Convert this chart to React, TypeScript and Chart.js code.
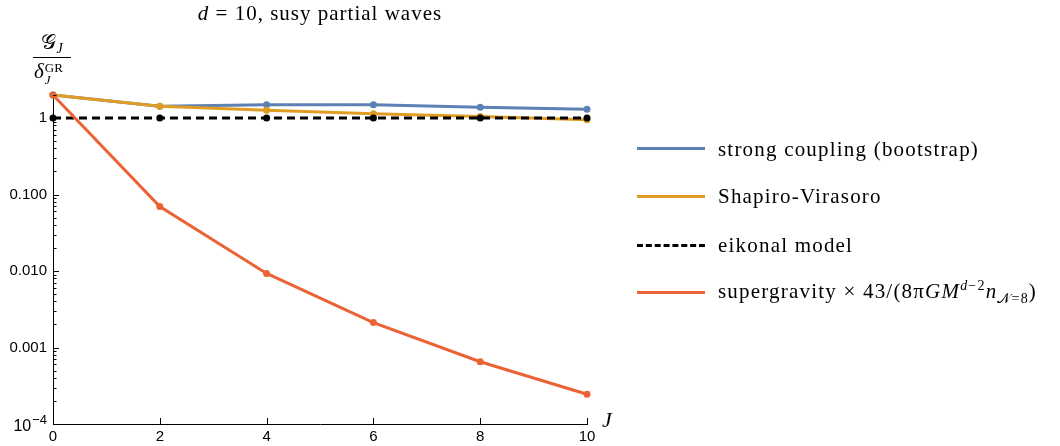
import React, { useEffect, useRef } from "react";
import { Chart, registerables } from "chart.js";

Chart.register(...registerables);

// ---- data ----
const J = [0, 2, 4, 6, 8, 10];
const strongCoupling = [2.0, 1.43, 1.49, 1.49, 1.38, 1.3];
const shapiroVirasoro = [2.0, 1.43, 1.26, 1.14, 1.05, 0.95];
const eikonal = [1, 1, 1, 1, 1, 1];
const supergravity = [2.0, 0.0696, 0.0093, 0.00212, 0.000652, 0.000245];

const xTicks = [0, 2, 4, 6, 8, 10];
const yMajorTicks = [1e-4, 1e-3, 1e-2, 1e-1, 1];
const yTickLabels = ["", "0.001", "0.010", "0.100", "1"];
const yMinLabelBase = "10";
const yMinLabelExp = "\u22124";

const seriesNames = ["strong coupling (bootstrap)", "Shapiro-Virasoro", "eikonal model", "supergravity"];

const BLUE = "#5E81B5";
const ORANGE = "#E19C24";
const BLACK = "#000000";
const RED = "#EB6235";

const SERIF = "'Liberation Serif', 'DejaVu Serif', serif";
const SANS = "'Liberation Sans', Arial, sans-serif";

const tickPlugin = {
  id: "inwardTicks",
  afterDraw(chart: any) {
    const { ctx, chartArea, scales } = chart;
    const xs = scales.x;
    const ys = scales.y;
    ctx.save();
    ctx.strokeStyle = "#000";
    ctx.lineWidth = 1;
    const line = (x1: number, y1: number, x2: number, y2: number) => {
      ctx.beginPath();
      ctx.moveTo(x1, y1);
      ctx.lineTo(x2, y2);
      ctx.stroke();
    };
    const left = chartArea.left;
    const bottom = chartArea.bottom;
    xTicks.forEach((v) => {
      const px = Math.round(xs.getPixelForValue(v)) + 0.5;
      line(px, bottom, px, bottom - 6);
    });
    yMajorTicks.forEach((v) => {
      const py = Math.round(ys.getPixelForValue(v)) + 0.5;
      line(left, py, left + 6, py);
    });
    for (let k = -4; k <= 0; k++) {
      for (let m = 2; m <= 9; m++) {
        const v = m * Math.pow(10, k);
        if (v > 2.0001) continue;
        const py = Math.round(ys.getPixelForValue(v)) + 0.5;
        line(left, py, left + 3.5, py);
      }
    }
    // 10^-4 label
    const py = ys.getPixelForValue(1e-4);
    ctx.fillStyle = "#000";
    ctx.textBaseline = "middle";
    ctx.font = `13px ${SANS}`;
    ctx.textAlign = "right";
    const expW = ctx.measureText(yMinLabelExp).width;
    ctx.fillText(yMinLabelExp, left - 6, py - 4);
    ctx.font = `16px ${SANS}`;
    ctx.fillText(yMinLabelBase, left - 7 - expW, py + 3);
    ctx.restore();
  },
};

function ChartCanvas() {
  const ref = useRef<HTMLCanvasElement | null>(null);
  useEffect(() => {
    if (!ref.current) return;
    const mk = (vals: number[]) => J.map((x, i) => ({ x, y: vals[i] }));
    const chart = new Chart(ref.current, {
      type: "line",
      data: {
        datasets: [
          {
            label: seriesNames[0],
            data: mk(strongCoupling),
            borderColor: BLUE,
            backgroundColor: BLUE,
            borderWidth: 3,
            pointRadius: 3.5,
            pointBorderWidth: 0,
            order: 3,
            clip: false as any,
          },
          {
            label: seriesNames[1],
            data: mk(shapiroVirasoro),
            borderColor: ORANGE,
            backgroundColor: ORANGE,
            borderWidth: 3,
            pointRadius: 3.5,
            pointBorderWidth: 0,
            order: 2,
            clip: false as any,
          },
          {
            label: seriesNames[2],
            data: mk(eikonal),
            borderColor: BLACK,
            backgroundColor: BLACK,
            borderWidth: 3,
            borderDash: [8, 5],
            pointRadius: 3.5,
            pointBorderWidth: 0,
            order: 1,
            clip: false as any,
          },
          {
            label: seriesNames[3],
            data: mk(supergravity),
            borderColor: RED,
            backgroundColor: RED,
            borderWidth: 3,
            pointRadius: 3.5,
            pointBorderWidth: 0,
            order: 0,
            clip: false as any,
          },
        ],
      },
      options: {
        animation: false,
        responsive: false,
        events: [],
        layout: { padding: { left: 0, top: 95, right: 473, bottom: 0 } },
        plugins: {
          legend: { display: false },
          title: { display: false },
          tooltip: { enabled: false },
        },
        scales: {
          x: {
            type: "linear",
            min: 0,
            max: 10,
            afterBuildTicks: (s: any) => {
              s.ticks = xTicks.map((v) => ({ value: v }));
            },
            afterFit: (s: any) => {
              s.height = 22;
            },
            grid: { display: false, drawTicks: false },
            border: { display: true, color: "#000", width: 1 },
            ticks: {
              color: "#000",
              padding: 4,
              font: { family: SANS, size: 15 },
              maxRotation: 0,
              callback: (v: any) => String(v),
            },
          },
          y: {
            type: "logarithmic",
            min: 1e-4,
            max: 2,
            afterBuildTicks: (s: any) => {
              s.ticks = yMajorTicks.map((v) => ({ value: v }));
            },
            afterFit: (s: any) => {
              s.width = 53;
            },
            grid: { display: false, drawTicks: false },
            border: { display: true, color: "#000", width: 1 },
            ticks: {
              color: "#000",
              padding: 6,
              font: { family: SANS, size: 15 },
              callback: (v: any) => {
                const i = yMajorTicks.findIndex((t) => Math.abs(t - v) / t < 1e-6);
                return i >= 0 ? yTickLabels[i] : "";
              },
            },
          },
        },
      },
      plugins: [tickPlugin],
    });
    return () => chart.destroy();
  }, []);
  return <canvas ref={ref} width={1060} height={446} style={{ position: "absolute", left: 0, top: 0, width: 1060, height: 446 }} />;
}

const legendRows = [
  { color: BLUE, dashed: false, y: 148.5 },
  { color: ORANGE, dashed: false, y: 196 },
  { color: BLACK, dashed: true, y: 245 },
  { color: RED, dashed: false, y: 292.5 },
];

function LegendRow({ idx, children }: { idx: number; children: React.ReactNode }) {
  const r = legendRows[idx];
  return (
    <div style={{ position: "absolute", left: 637, top: r.y - 15, height: 30, display: "flex", alignItems: "center", whiteSpace: "nowrap" }}>
      <div
        style={{
          width: 68,
          height: 0,
          borderTop: r.dashed ? `3px dashed ${r.color}` : `3px solid ${r.color}`,
          marginRight: 13,
        }}
      />
      <div style={{ fontFamily: SERIF, fontSize: 21, letterSpacing: "1.2px", lineHeight: "30px", color: "#000" }}>{children}</div>
    </div>
  );
}

export default function App() {
  return (
    <div style={{ position: "absolute", left: 0, top: 0, width: 1060, height: 446, background: "#fff", overflow: "hidden" }}>
      <ChartCanvas />
      {/* title */}
      <div
        style={{
          position: "absolute",
          left: 0,
          width: 640,
          top: 0,
          textAlign: "center",
          fontFamily: SERIF,
          fontSize: 21,
          letterSpacing: "1px",
          lineHeight: "26px",
          whiteSpace: "nowrap",
        }}
      >
        <i>d</i> = 10, susy partial waves
      </div>
      {/* y-axis label */}
      <div style={{ position: "absolute", left: 33, top: 32, width: 38, fontFamily: SERIF, fontSize: 21, textAlign: "center", lineHeight: "21px" }}>
        <div style={{ paddingBottom: 2, borderBottom: "1px solid #000", whiteSpace: "nowrap" }}>
          <span>𝒢</span>
          <i style={{ fontSize: 14, position: "relative", top: 4 }}>J</i>
        </div>
        <div style={{ paddingTop: 3, position: "relative", textAlign: "left", paddingLeft: 1, whiteSpace: "nowrap" }}>
          <i>δ</i>
          <span style={{ display: "inline-block", verticalAlign: "top", fontSize: 13, lineHeight: "12px", marginLeft: 1 }}>
            <span style={{ display: "block", position: "relative", top: 1 }}>GR</span>
            <i style={{ display: "block", position: "relative", top: 1 }}>J</i>
          </span>
        </div>
      </div>
      {/* x-axis label */}
      <div style={{ position: "absolute", left: 602, top: 407, fontFamily: SERIF, fontSize: 22, fontStyle: "italic" }}>J</div>
      {/* legend */}
      <LegendRow idx={0}>{seriesNames[0]}</LegendRow>
      <LegendRow idx={1}>{seriesNames[1]}</LegendRow>
      <LegendRow idx={2}>{seriesNames[2]}</LegendRow>
      <LegendRow idx={3}>
        {seriesNames[3]} × 43/(8π<i>GM</i>
        <sup style={{ fontSize: 14 }}>
          <i>d</i>−2
        </sup>
        <i>n</i>
        <sub style={{ fontSize: 14 }}>𝒩=8</sub>)
      </LegendRow>
    </div>
  );
}
